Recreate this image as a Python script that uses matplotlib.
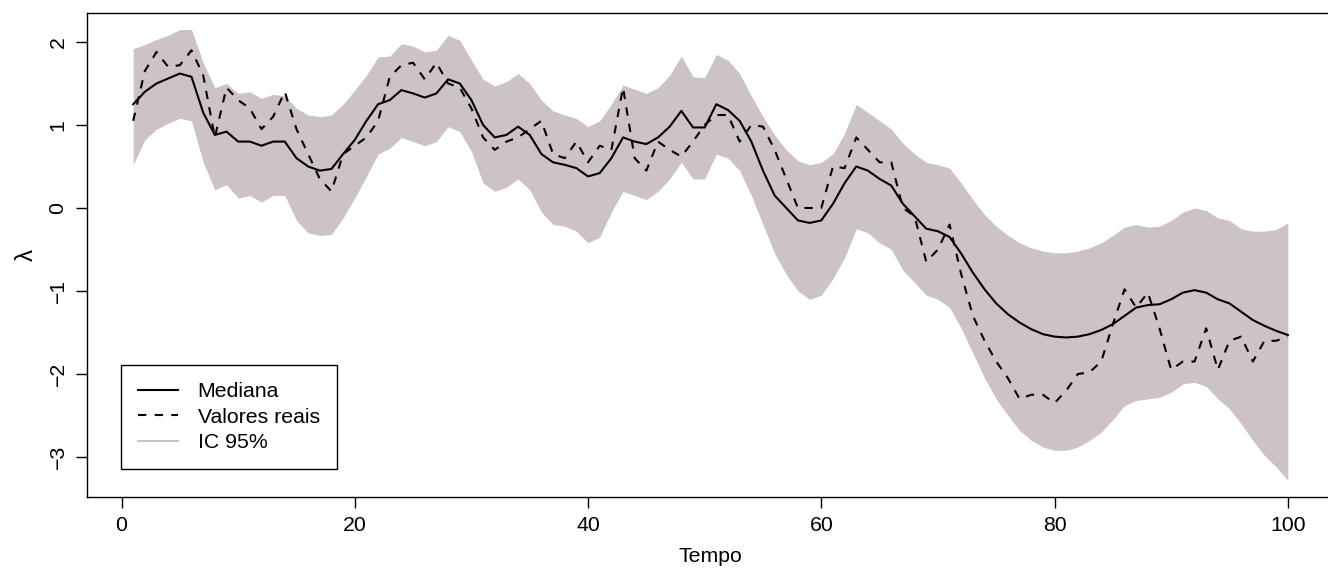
import numpy as np
import matplotlib.pyplot as plt

plt.rcParams['font.family'] = ['Liberation Sans', 'DejaVu Sans']

# time index
tempo = np.arange(1, 101)

# posterior median
mediana = [1.25, 1.40, 1.50, 1.56, 1.62, 1.58, 1.15, 0.88, 0.92, 0.80,
           0.80, 0.75, 0.80, 0.80, 0.60, 0.50, 0.45, 0.47, 0.65, 0.82,
           1.05, 1.25, 1.30, 1.42, 1.38, 1.33, 1.38, 1.55, 1.50, 1.30,
           1.00, 0.85, 0.88, 0.98, 0.88, 0.65, 0.55, 0.52, 0.48, 0.38,
           0.42, 0.60, 0.85, 0.80, 0.77, 0.85, 0.98, 1.17, 0.97, 0.97,
           1.25, 1.18, 1.05, 0.80, 0.45, 0.15, 0.00, -0.15, -0.18, -0.15,
           0.05, 0.30, 0.50, 0.45, 0.35, 0.27, 0.05, -0.10, -0.25, -0.28,
           -0.35, -0.55, -0.78, -0.98, -1.15, -1.28, -1.38, -1.46, -1.52, -1.55,
           -1.56, -1.55, -1.52, -1.47, -1.40, -1.30, -1.20, -1.17, -1.16, -1.10,
           -1.02, -0.99, -1.02, -1.10, -1.15, -1.25, -1.35, -1.42, -1.48, -1.53]

# true values
reais = [1.05, 1.65, 1.88, 1.70, 1.72, 1.90, 1.60, 0.85, 1.45, 1.30,
         1.20, 0.95, 1.10, 1.40, 0.95, 0.65, 0.35, 0.20, 0.65, 0.75,
         0.85, 1.05, 1.58, 1.72, 1.75, 1.55, 1.75, 1.50, 1.45, 1.20,
         0.85, 0.70, 0.80, 0.85, 0.95, 1.05, 0.65, 0.60, 0.80, 0.55,
         0.75, 0.70, 1.45, 0.60, 0.45, 0.80, 0.70, 0.62, 0.80, 1.00,
         1.12, 1.12, 0.80, 1.00, 0.98, 0.70, 0.35, 0.00, 0.00, 0.00,
         0.50, 0.48, 0.85, 0.70, 0.55, 0.55, 0.00, -0.10, -0.65, -0.50,
         -0.20, -0.80, -1.30, -1.60, -1.85, -2.05, -2.30, -2.25, -2.25, -2.35,
         -2.20, -2.00, -1.98, -1.85, -1.40, -0.98, -1.20, -1.02, -1.45, -1.95,
         -1.85, -1.85, -1.45, -1.95, -1.60, -1.55, -1.85, -1.60, -1.60, -1.55]

# 95% interval limits
ic_sup = [1.92, 1.97, 2.03, 2.08, 2.15, 2.15, 1.75, 1.45, 1.50, 1.38,
          1.40, 1.32, 1.37, 1.35, 1.20, 1.12, 1.10, 1.12, 1.25, 1.42,
          1.60, 1.82, 1.83, 1.98, 1.95, 1.88, 1.90, 2.08, 2.02, 1.78,
          1.55, 1.47, 1.52, 1.62, 1.50, 1.30, 1.17, 1.12, 1.08, 0.98,
          1.05, 1.25, 1.48, 1.43, 1.38, 1.45, 1.60, 1.83, 1.58, 1.57,
          1.85, 1.78, 1.62, 1.35, 1.10, 0.88, 0.70, 0.57, 0.52, 0.55,
          0.65, 0.90, 1.25, 1.15, 1.05, 0.95, 0.78, 0.65, 0.55, 0.52,
          0.48, 0.30, 0.10, -0.08, -0.22, -0.33, -0.42, -0.48, -0.52, -0.54,
          -0.54, -0.52, -0.48, -0.42, -0.33, -0.23, -0.20, -0.23, -0.22, -0.15,
          -0.05, 0.00, -0.03, -0.12, -0.15, -0.25, -0.28, -0.28, -0.26, -0.18]

ic_inf = [0.52, 0.82, 0.95, 1.02, 1.08, 1.05, 0.55, 0.22, 0.28, 0.12,
          0.15, 0.07, 0.15, 0.15, -0.15, -0.30, -0.33, -0.32, -0.12, 0.12,
          0.38, 0.65, 0.72, 0.85, 0.80, 0.75, 0.80, 0.98, 0.92, 0.68,
          0.30, 0.20, 0.25, 0.35, 0.22, -0.05, -0.20, -0.22, -0.28, -0.42,
          -0.35, -0.05, 0.20, 0.15, 0.10, 0.20, 0.35, 0.55, 0.35, 0.35,
          0.65, 0.60, 0.45, 0.15, -0.20, -0.55, -0.80, -1.00, -1.10, -1.05,
          -0.85, -0.60, -0.25, -0.30, -0.42, -0.50, -0.75, -0.90, -1.05, -1.10,
          -1.20, -1.45, -1.75, -2.05, -2.30, -2.50, -2.68, -2.80, -2.88, -2.92,
          -2.92, -2.88, -2.80, -2.70, -2.55, -2.38, -2.32, -2.30, -2.28, -2.22,
          -2.12, -2.10, -2.15, -2.30, -2.42, -2.60, -2.80, -2.98, -3.12, -3.28]

band_col = '#CDC2C7'
fs = 15.3

fig = plt.figure(figsize=(13.28, 5.78), dpi=100)
W, H = 1328, 578
ax = fig.add_axes([87 / W, 1 - 497 / H, (1334 - 87) / W, (497 - 13) / H])

ax.fill_between(tempo, ic_inf, ic_sup, color=band_col, lw=0)
ax.plot(tempo, mediana, color='black', lw=1.5, label='Mediana')
ax.plot(tempo, reais, color='black', lw=1.5, dashes=(4, 4), label='Valores reais')
ax.plot([], [], color=band_col, lw=1.5, label='IC 95%')

ax.set_xlim(-2.96, 103.96)
ax.set_ylim(-3.482, 2.349)
ax.set_xticks([0, 20, 40, 60, 80, 100])
ax.set_yticks([-3, -2, -1, 0, 1, 2])
ax.tick_params(direction='out', length=8, width=1, labelsize=fs, pad=6)
for lab in ax.get_yticklabels():
    lab.set_rotation(90)
    lab.set_va('center')
for s in ax.spines.values():
    s.set_linewidth(1)

ax.set_xlabel('Tempo', fontsize=fs, labelpad=8)
ax.set_ylabel('λ', fontsize=fs + 2, labelpad=8)

leg = ax.legend(loc='lower left', bbox_to_anchor=((121 - 87) / 1247, (497 - 469) / 484),
                borderaxespad=0, fancybox=False, edgecolor='black', framealpha=1,
                fontsize=fs, handlelength=1.9, handletextpad=0.9, labelspacing=0.3,
                borderpad=0.8)
leg.get_frame().set_linewidth(1)

fig.savefig('out.png', dpi=100)
